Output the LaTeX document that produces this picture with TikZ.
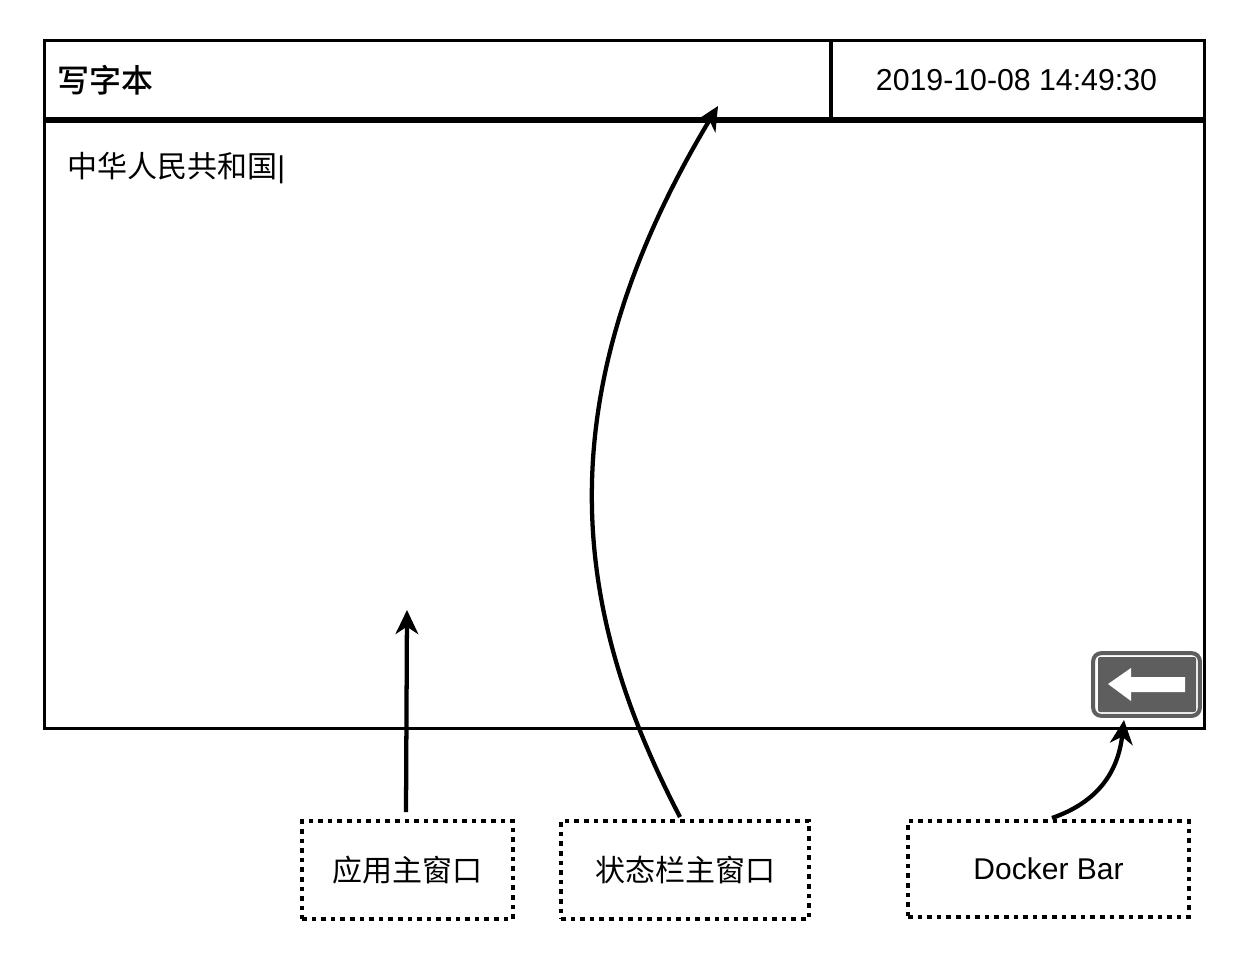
\documentclass[tikz,border=0pt]{standalone}
\usepackage{fontspec}
\usetikzlibrary{arrows.meta}
\setmainfont{Liberation Sans}
\newfontfamily\cjk{Noto Sans CJK SC}
\newfontfamily\cjkmed{Noto Sans CJK SC Medium}
\begin{document}
\begin{tikzpicture}[x=0.75pt,y=-0.75pt,
  panel/.style={draw=black,line width=2.25pt,outer sep=0,inner sep=0,anchor=north west},
  tag/.style={draw=black,line width=3pt,dash pattern=on 3.4pt off 3.8pt,outer sep=0,inner sep=0,anchor=north west,font=\fontsize{22.5pt}{26pt}\selectfont},
  pointer/.style={draw=black,line width=3.2pt,-{Stealth[length=18pt,width=17pt,inset=5.5pt]}}]
\useasboundingbox (0,0) rectangle (1244,968);
\node[panel,minimum width=870pt,minimum height=456pt] (body) at (44,120) {};
\node[panel,minimum width=590.25pt,minimum height=60pt] (title) at (44,40) {};
\node[panel,minimum width=279.75pt,minimum height=60pt] (clock) at (831,40) {};
\draw[line width=3.8pt] (title.south west) -- (clock.south east);
\draw[line width=3.2pt] (title.north east) -- (title.south east);
\node[anchor=west,inner sep=0,font=\cjkmed\fontsize{24pt}{28pt}\selectfont] (titletext) at (57,80) {写字本};
\node[anchor=center,inner sep=0,font=\fontsize{22.7pt}{26pt}\selectfont] (clocktext) at (1016.5,80) {2019-10-08 14:49:30};
\node[anchor=west,inner sep=0,font=\fontsize{22.5pt}{26pt}\selectfont] (bodytext) at (67,168) {{\cjk 中华人民共和国}|};
% dock button
\node[draw=black!63,fill=white,line width=3pt,rounded corners=6pt,minimum width=80pt,minimum height=47pt,outer sep=0,inner sep=0] (dock) at (1146.5,684.5) {};
\node[fill=black!63,rounded corners=1.5pt,minimum width=73.5pt,minimum height=41.25pt,outer sep=0,inner sep=0] (dockfill) at (1147,684.5) {};
\fill[white,line join=round] (1108,684) -- (1131,668) -- (1131,677) -- (1185,677) -- (1185,692) -- (1131,692) -- (1131,701) -- cycle;
% tags
\node[tag,minimum width=158.25pt,minimum height=73.5pt] (appbox) at (302,821) {};
\node[font=\cjk\fontsize{22.5pt}{26pt}\selectfont,inner sep=0] (apptext) at (appbox.center) {应用主窗口};
\node[tag,minimum width=186pt,minimum height=73.5pt] (statusbox) at (561,821) {};
\node[font=\cjk\fontsize{22.5pt}{26pt}\selectfont,inner sep=0] (statustext) at (statusbox.center) {状态栏主窗口};
\node[tag,minimum width=210.75pt,minimum height=72pt] (dockbox) at (908,821) {};
\node[font=\fontsize{22.5pt}{26pt}\selectfont,inner sep=0] (docktext) at (1048.5,869) {Docker Bar};
% connectors
\coordinate (a1) at (406,812); \coordinate (a2) at (407,610);
\draw[pointer] (a1) -- (a2);
\coordinate (b1) at (680,817); \coordinate (b2) at (718,106);
\draw[pointer] (b1) .. controls (580,625) and (535,410) .. (b2);
\coordinate (c1) at (1052,818); \coordinate (c2) at (1124,720);
\draw[pointer] (c1) .. controls (1098,802) and (1118,772) .. (c2);
\end{tikzpicture}
\end{document}
